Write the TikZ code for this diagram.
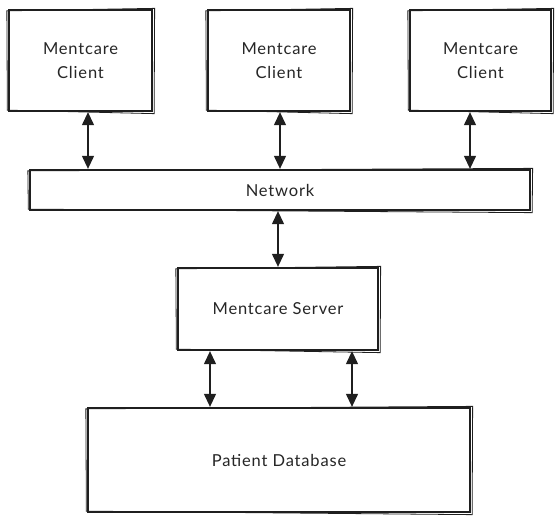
\documentclass[tikz,border=0pt]{standalone}
\usepackage{fontspec}
\setmainfont{Lato}[LetterSpace=5]
\usetikzlibrary{arrows.meta}
\tikzset{
  box/.style={draw=black!88, line width=1.3pt, fill=white, inner sep=0pt, align=center,
    font=\fontsize{16.5}{24}\selectfont, text=black!85},
  sketch/.style={draw=black!88, line width=0.8pt},
  link/.style={draw=black!88, line width=1.2pt,
    {Triangle[length=13pt,width=12pt]}-{Triangle[length=13pt,width=12pt]}, shorten <=0.5pt, shorten >=0.5pt}
}
\begin{document}
\begin{tikzpicture}[x=1pt,y=-1pt]
\useasboundingbox (0,0) rectangle (560,520);
% nodes
\node[box, minimum width=143pt, minimum height=101pt] (c1) at (80.5,60.5) {Mentcare\\Client};
\node[box, minimum width=142pt, minimum height=101pt] (c2) at (279,60.5) {Mentcare\\Client};
\node[box, minimum width=141pt, minimum height=101pt] (c3) at (480.5,60.5) {Mentcare\\Client};
\node[box, minimum width=500pt, minimum height=40pt] (net) at (280,190) {Network};
\node[box, minimum width=200pt, minimum height=82pt] (srv) at (278,309) {Mentcare Server};
\node[box, minimum width=382pt, minimum height=104pt] (db) at (279,460) {Patient Database};
% sketchy second strokes
\foreach \n in {c1,c2,c3,net,srv,db}{
  \draw[sketch] ([shift={(-1.5,1.5)}]\n.north west) -- ([shift={(2,-1)}]\n.north east)
    -- ([shift={(1.5,2)}]\n.south east) -- ([shift={(-1,-1.5)}]\n.south west) -- cycle;
}
% connectors
\coordinate (a1t) at (88,111); \coordinate (a1b) at (88,170);
\coordinate (a2t) at (280,111); \coordinate (a2b) at (280,170);
\coordinate (a3t) at (470,111); \coordinate (a3b) at (470,170);
\draw[link] (c1.south -| a1t) -- (net.north -| a1b);
\draw[link] (c2.south -| a2t) -- (net.north -| a2b);
\draw[link] (c3.south -| a3t) -- (net.north -| a3b);
\draw[link] (net.south -| srv.north) -- (srv.north);
\coordinate (d1) at (210,0); \coordinate (d2) at (352,0);
\draw[link] (srv.south -| d1) -- (db.north -| d1);
\draw[link] (srv.south -| d2) -- (db.north -| d2);
\end{tikzpicture}
\end{document}
